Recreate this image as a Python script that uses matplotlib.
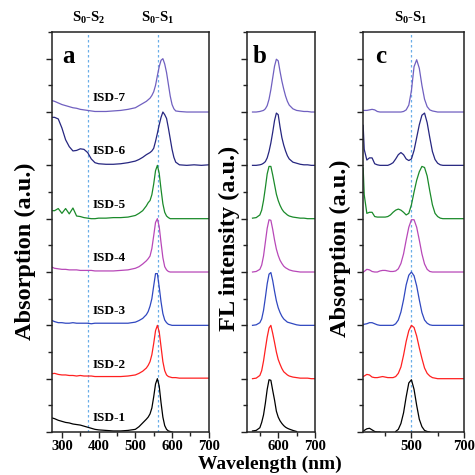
import numpy as np
import matplotlib
matplotlib.use("Agg")
import matplotlib.pyplot as plt
from matplotlib.ticker import MultipleLocator

plt.rcParams['font.family'] = ['Liberation Serif', 'DejaVu Serif']
plt.rcParams['font.weight'] = 'bold'
plt.rcParams['mathtext.default'] = 'regular'

nan = np.nan

names = ["ISD-1", "ISD-2", "ISD-3", "ISD-4", "ISD-5", "ISD-6", "ISD-7"]
colors = ["#000000", "#ff2020", "#3048c0", "#b848b8", "#1a8a2a", "#262680", "#7060c0"]

# panel a: absorption
wl_a = [270, 280, 290, 300, 310, 320, 330, 340, 350, 360, 370, 380, 390, 400, 420, 440, 460, 480,
        500, 510, 520, 530, 535, 540, 545, 550, 555, 560, 565, 570, 575, 580, 585, 590, 595, 600,
        605, 610, 620, 640, 660, 680, 700]
abs_isd1 = [0.27, 0.25, 0.22, 0.20, 0.18, 0.17, 0.15, 0.14, 0.13, 0.11, 0.09, 0.07, 0.05, 0.04, 0.03, 0.02, 0.02, 0.03,
            0.05, 0.10, 0.17, 0.24, 0.28, 0.34, 0.45, 0.66, 0.90, 1.00, 0.86, 0.55, 0.28, 0.12, 0.05, 0.02, 0.01, 0.00,
            nan, nan, nan, nan, nan, nan, nan]
abs_isd2 = [0.09, 0.10, 0.08, 0.07, 0.07, 0.06, 0.06, 0.05, 0.06, 0.05, 0.05, 0.05, 0.04, 0.04, 0.04, 0.04, 0.04, 0.05,
            0.07, 0.10, 0.14, 0.20, 0.25, 0.32, 0.45, 0.66, 0.90, 1.00, 0.88, 0.60, 0.32, 0.15, 0.07, 0.04, 0.03, 0.02,
            0.02, 0.02, 0.01, 0.01, 0.01, 0.01, 0.01]
abs_isd3 = [0.10, 0.07, 0.05, 0.05, 0.04, 0.04, 0.05, 0.04, 0.04, 0.04, 0.04, 0.03, 0.04, 0.04, 0.04, 0.04, 0.04, 0.04,
            0.06, 0.09, 0.13, 0.20, 0.26, 0.36, 0.50, 0.74, 0.97, 0.97, 0.72, 0.44, 0.22, 0.10, 0.05, 0.02, 0.01, 0.00,
            0.00, 0.00, 0.00, 0.00, 0.00, 0.00, 0.00]
abs_isd4 = [0.10, 0.07, 0.06, 0.05, 0.05, 0.04, 0.04, 0.04, 0.03, 0.03, 0.03, 0.03, 0.02, 0.02, 0.02, 0.02, 0.03, 0.04,
            0.07, 0.10, 0.15, 0.21, 0.25, 0.30, 0.44, 0.68, 0.93, 1.00, 0.85, 0.55, 0.27, 0.10, 0.04, 0.01, 0.00, 0.00,
            0.00, 0.00, 0.00, 0.00, 0.00, 0.00, 0.00]
abs_isd5 = [0.15, 0.15, 0.19, 0.10, 0.19, 0.09, 0.20, 0.05, 0.04, 0.02, 0.01, 0.00, 0.00, 0.01, 0.01, 0.02, 0.02, 0.03,
            0.06, 0.10, 0.15, 0.24, 0.30, 0.34, 0.45, 0.65, 0.90, 1.00, 0.85, 0.55, 0.28, 0.12, 0.05, 0.02, 0.00, 0.00,
            0.00, 0.00, 0.00, 0.00, 0.00, 0.00, 0.00]
abs_isd6 = [0.90, 0.90, 0.87, 0.70, 0.48, 0.35, 0.27, 0.28, 0.31, 0.30, 0.24, 0.12, 0.05, 0.03, 0.02, 0.02, 0.03, 0.05,
            0.08, 0.11, 0.15, 0.20, 0.22, 0.24, 0.27, 0.32, 0.45, 0.60, 0.76, 0.90, 1.00, 0.95, 0.88, 0.70, 0.50, 0.30,
            0.15, 0.06, 0.01, 0.00, 0.01, 0.00, 0.01]
abs_isd7 = [0.22, 0.20, 0.17, 0.14, 0.12, 0.10, 0.08, 0.07, 0.05, 0.04, 0.03, 0.02, 0.01, 0.01, 0.01, 0.02, 0.03, 0.05,
            0.08, 0.12, 0.16, 0.20, 0.23, 0.26, 0.31, 0.38, 0.50, 0.68, 0.85, 0.97, 1.00, 0.90, 0.74, 0.52, 0.30, 0.14,
            0.06, 0.02, 0.01, 0.00, 0.00, 0.00, 0.00]

# panel b: fluorescence
wl_b = [530, 540, 550, 555, 560, 565, 570, 575, 580, 585, 590, 595, 600, 605, 610, 615, 620, 625, 630,
        640, 650, 660, 670, 680, 690, 700]
fl_isd1 = [0.02, 0.03, 0.08, 0.18, 0.32, 0.54, 0.80, 0.98, 0.97, 0.78, 0.60, 0.39, 0.28, 0.21, 0.16, 0.12, 0.09, 0.07, 0.055,
           0.03, 0.01, nan, nan, nan, nan, nan]
fl_isd2 = [0.00, 0.01, 0.06, 0.15, 0.33, 0.56, 0.78, 0.95, 1.00, 0.85, 0.68, 0.50, 0.36, 0.27, 0.19, 0.13, 0.10, 0.07, 0.05,
           0.03, 0.02, 0.01, 0.01, 0.01, 0.00, 0.00]
fl_isd3 = [0.00, 0.01, 0.05, 0.12, 0.28, 0.52, 0.78, 0.96, 0.99, 0.84, 0.64, 0.46, 0.33, 0.24, 0.17, 0.12, 0.09, 0.06, 0.05,
           0.03, 0.01, 0.00, 0.00, 0.00, 0.00, 0.00]
fl_isd4 = [0.00, 0.01, 0.05, 0.13, 0.30, 0.56, 0.82, 0.98, 0.97, 0.80, 0.60, 0.43, 0.31, 0.22, 0.16, 0.11, 0.08, 0.06, 0.04,
           0.02, 0.01, 0.00, 0.00, 0.00, 0.00, 0.00]
fl_isd5 = [0.01, 0.02, 0.07, 0.16, 0.34, 0.58, 0.84, 0.98, 0.98, 0.82, 0.64, 0.46, 0.34, 0.25, 0.18, 0.13, 0.10, 0.07, 0.05,
           0.03, 0.02, 0.01, 0.01, 0.00, 0.00, 0.00]
fl_isd6 = [0.00, 0.00, 0.01, 0.02, 0.04, 0.07, 0.14, 0.26, 0.42, 0.62, 0.84, 0.98, 0.95, 0.72, 0.52, 0.38, 0.27, 0.18, 0.12,
           0.06, 0.04, 0.02, 0.01, 0.01, 0.00, 0.00]
fl_isd7 = [0.00, 0.00, 0.01, 0.02, 0.03, 0.06, 0.12, 0.24, 0.42, 0.64, 0.86, 0.99, 0.96, 0.76, 0.58, 0.43, 0.30, 0.20, 0.13,
           0.06, 0.03, 0.02, 0.01, 0.01, 0.00, 0.00]

# panel c: absorption (second set)
wl_c = [316, 320, 330, 340, 350, 360, 370, 380, 390, 400, 410, 420, 430, 440, 450, 460, 470, 480, 490,
        500, 510, 520, 530, 540, 550, 560, 570, 580, 590, 600, 610, 620, 630, 640, 660, 680, 700]
c_isd1 = [0.02, 0.03, 0.06, 0.07, 0.04, 0.01, 0.00, 0.00, nan, nan, nan, nan, nan, 0.01, 0.05, 0.16, 0.36, 0.66, 0.92,
          0.98, 0.80, 0.50, 0.24, 0.10, 0.03, 0.01, 0.00, nan, nan, nan, nan, nan, nan, nan, nan, nan, nan]
c_isd2 = [0.04, 0.05, 0.08, 0.07, 0.03, 0.02, 0.02, 0.03, 0.04, 0.03, 0.02, 0.02, 0.02, 0.04, 0.10, 0.22, 0.44, 0.70, 0.90,
          1.00, 0.96, 0.80, 0.58, 0.38, 0.20, 0.10, 0.05, 0.02, 0.01, 0.00, 0.00, 0.00, 0.00, 0.00, 0.00, 0.00, 0.00]
c_isd3 = [0.02, 0.02, 0.03, 0.05, 0.05, 0.03, 0.01, 0.00, 0.00, 0.00, 0.00, 0.00, 0.00, 0.03, 0.10, 0.25, 0.48, 0.76, 0.94,
          1.00, 0.93, 0.74, 0.48, 0.24, 0.10, 0.04, 0.01, 0.00, 0.00, 0.00, 0.00, 0.00, 0.00, 0.00, 0.00, 0.00, 0.00]
c_isd4 = [0.00, 0.01, 0.05, 0.04, 0.01, 0.00, 0.00, 0.02, 0.03, 0.03, 0.02, 0.01, 0.01, 0.02, 0.06, 0.16, 0.34, 0.60, 0.84,
          0.98, 0.98, 0.84, 0.60, 0.34, 0.15, 0.05, 0.01, 0.00, 0.00, 0.00, 0.00, 0.00, 0.00, 0.00, 0.00, 0.00, 0.00]
c_isd5 = [0.95, 0.45, 0.10, 0.12, 0.12, 0.04, 0.03, 0.03, 0.03, 0.03, 0.04, 0.07, 0.12, 0.16, 0.18, 0.16, 0.12, 0.07, 0.10,
          0.26, 0.50, 0.72, 0.88, 0.98, 0.96, 0.80, 0.52, 0.26, 0.10, 0.04, 0.01, 0.00, 0.00, 0.00, 0.00, 0.00, 0.00]
c_isd6 = [0.75, 0.30, 0.10, 0.14, 0.14, 0.03, 0.01, 0.00, 0.00, 0.00, 0.00, 0.02, 0.05, 0.12, 0.20, 0.24, 0.20, 0.12, 0.09,
          0.12, 0.28, 0.52, 0.76, 0.94, 0.98, 0.80, 0.52, 0.26, 0.11, 0.04, 0.01, 0.00, 0.00, 0.00, 0.00, 0.00, 0.00]
c_isd7 = [0.03, 0.03, 0.03, 0.04, 0.05, 0.04, 0.01, 0.00, 0.00, 0.00, 0.00, 0.00, 0.00, 0.00, 0.00, 0.00, 0.01, 0.04, 0.13,
          0.40, 0.85, 0.98, 0.82, 0.50, 0.24, 0.10, 0.04, 0.02, 0.01, 0.00, 0.00, 0.00, 0.00, 0.00, 0.00, 0.00, 0.00]

abs_a = [abs_isd1, abs_isd2, abs_isd3, abs_isd4, abs_isd5, abs_isd6, abs_isd7]
fl_b = [fl_isd1, fl_isd2, fl_isd3, fl_isd4, fl_isd5, fl_isd6, fl_isd7]
abs_c = [c_isd1, c_isd2, c_isd3, c_isd4, c_isd5, c_isd6, c_isd7]

s0s2_a = 372
s0s1_a = 562
s0s1_c = 499

fig = plt.figure(figsize=(4.75, 4.75), dpi=100)
ax_a = fig.add_axes([0.1095, 0.0905, 0.330, 0.8421])
ax_b = fig.add_axes([0.520, 0.0905, 0.143, 0.8421])
ax_c = fig.add_axes([0.764, 0.0905, 0.2126, 0.8421])

line_blue = "#6aaee8"

for i in range(7):
    ax_a.plot(wl_a, np.array(abs_a[i]) + i, color=colors[i], lw=0.9)
    ax_b.plot(wl_b, np.array(fl_b[i]) + i, color=colors[i], lw=0.9)
    ax_c.plot(wl_c, np.array(abs_c[i]) + i, color=colors[i], lw=0.9)
    ax_a.text(384, i + 0.26, names[i], fontsize=9.5, fontweight='bold', va='center', ha='left')

for x in [s0s2_a, s0s1_a]:
    ax_a.axvline(x, color=line_blue, lw=0.9, ls=(0, (2, 2)), zorder=0)
ax_c.axvline(s0s1_c, color=line_blue, lw=0.9, ls=(0, (2, 2)), zorder=0)

ax_a.set_xlim(273, 700)
ax_b.set_xlim(515, 700)
ax_c.set_xlim(315, 700)
ax_a.xaxis.set_major_locator(MultipleLocator(100))
ax_a.xaxis.set_minor_locator(MultipleLocator(50))
ax_b.xaxis.set_major_locator(MultipleLocator(100))
ax_b.xaxis.set_minor_locator(MultipleLocator(50))
ax_c.set_xticks([500, 700])
ax_c.set_xticks([400, 600], minor=True)

for ax in [ax_a, ax_b, ax_c]:
    ax.set_ylim(0, 7.5)
    ax.yaxis.set_major_locator(MultipleLocator(1))
    ax.yaxis.set_minor_locator(MultipleLocator(0.5))
    ax.set_yticklabels([])
    ax.tick_params(which='both', direction='out', top=False, right=False, width=1.0, color='#222222')
    ax.tick_params(which='major', length=4)
    ax.tick_params(which='minor', length=3)
    ax.tick_params(axis='x', labelsize=10.5, pad=2)
    for lbl in ax.get_xticklabels():
        lbl.set_fontweight('bold')
    for sp in ax.spines.values():
        sp.set_linewidth(1.1)
        sp.set_color('#222222')

ax_a.text(0.064, 0.922, "a", transform=ax_a.transAxes, fontsize=18, fontweight='bold')
ax_b.text(0.088, 0.922, "b", transform=ax_b.transAxes, fontsize=18, fontweight='bold')
ax_c.text(0.126, 0.922, "c", transform=ax_c.transAxes, fontsize=18, fontweight='bold')

for ax, x, lab in [(ax_a, s0s2_a, r"S$_0$-S$_2$"), (ax_a, s0s1_a, r"S$_0$-S$_1$"), (ax_c, s0s1_c, r"S$_0$-S$_1$")]:
    ax.annotate(lab, xy=(x, 1.0), xycoords=('data', 'axes fraction'), xytext=(0, 4),
                textcoords='offset points', ha='center', va='bottom', fontsize=10.5, fontweight='bold')

fig.text(0.0526, 0.4716, "Absorption (a.u.)", rotation=90, ha='center', va='center', fontsize=17.5, fontweight='bold')
fig.text(0.484, 0.499, "FL intensity (a.u.)", rotation=90, ha='center', va='center', fontsize=17.5, fontweight='bold')
fig.text(0.716, 0.478, "Absorption (a.u.)", rotation=90, ha='center', va='center', fontsize=17.5, fontweight='bold')
fig.text(0.568, 0.012, "Wavelength (nm)", ha='center', va='baseline', fontsize=14, fontweight='bold')

fig.savefig("out.png", dpi=100)
